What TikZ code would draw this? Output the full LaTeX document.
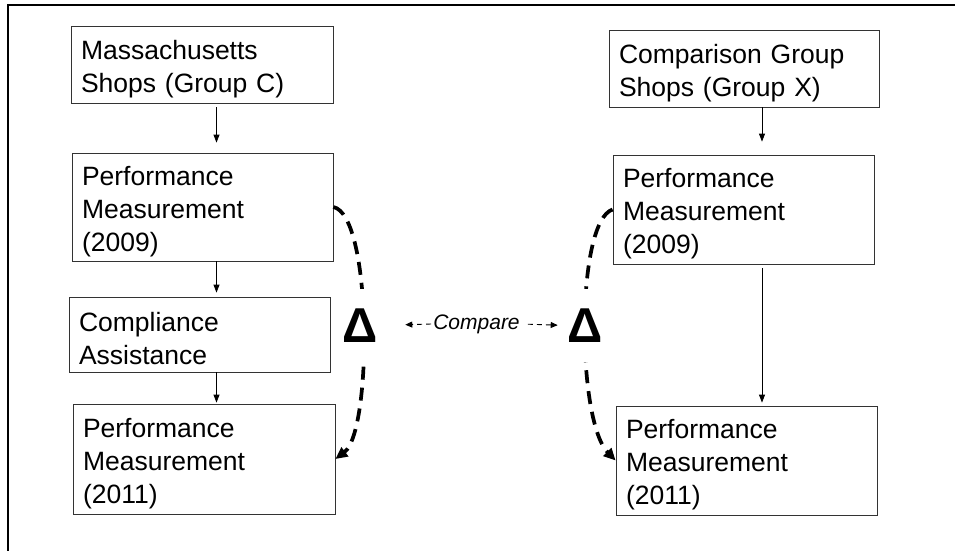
\documentclass[tikz,border=0pt]{standalone}
\usepackage{fontspec}
\setmainfont{Liberation Sans}
\usetikzlibrary{arrows.meta}
\begin{document}
\begin{tikzpicture}[
    x=1pt, y=-1pt,
    stagebox/.style={draw=black!80, line width=0.8pt, align=left, inner xsep=10pt, inner ysep=0pt,
        text height=28pt, font=\fontsize{26.5}{33}\selectfont},
    flow/.style={-{Triangle[length=8pt,width=6pt]}, line width=0.8pt},
    deltaarc/.style={dash pattern=on 13pt off 8pt, line width=3.7pt, -{Triangle[length=12pt,width=11pt]}},
    cmparrow/.style={dash pattern=on 5pt off 4pt, line width=0.9pt, -{Triangle[length=7pt,width=6pt]}},
    deltamark/.style={fill=white, inner xsep=0pt, inner ysep=20pt, font=\fontsize{49}{49}\selectfont\bfseries}
    ]
	\useasboundingbox (0,0) rectangle (955,550);
	\draw[line width=2pt] (7.5,560) |- (965,5);
	% group C
	\node[stagebox, text width=242pt, minimum height=77pt] (mass) at (202,64.5) {Massachusetts\\Shops (Group C)};
	\node[stagebox, text width=241pt, minimum height=108pt] (perfa) at (202.5,207) {Performance\\Measurement\\(2009)};
	\node[stagebox, text width=241pt, minimum height=75pt] (assist) at (199.5,334.5) {Compliance\\Assistance};
	\node[stagebox, text width=242pt, minimum height=110pt] (perfb) at (204,459) {Performance\\Measurement\\(2011)};
	% group X
	\node[stagebox, text width=250pt, minimum height=77pt] (comp) at (744,68.5) {Comparison Group\\Shops (Group X)};
	\node[stagebox, text width=241pt, minimum height=109pt] (perfx) at (743.5,209.5) {Performance\\Measurement\\(2009)};
	\node[stagebox, text width=241pt, minimum height=109pt] (perfy) at (746.5,460.5) {Performance\\Measurement\\(2011)};
	\coordinate (lcol) at (216.5,0);
	\coordinate (rcol) at (762,0);
	\draw[flow, shorten <=4pt, shorten >=10pt] (mass.south -| lcol) -- (perfa.north -| lcol);
	\draw[flow, shorten >=4pt] (perfa.south -| lcol) -- (assist.north -| lcol);
	\draw[flow, shorten >=1pt] (assist.south -| lcol) -- (perfb.north -| lcol);
	\draw[flow, shorten >=13pt] (comp.south -| rcol) -- (perfx.north -| rcol);
	\draw[flow, shorten <=4pt, shorten >=3pt] (perfx.south -| rcol) -- (perfy.north -| rcol);
	% change and comparison
	\draw[deltaarc] (perfa.east) .. controls +(39,8) and +(37,-28) .. (perfb.east);
	\draw[deltaarc] (perfx.west) .. controls +(-37,12) and +(-39,-40) .. (perfy.west);
	\node[deltamark] (dl) at (360.5,325.5) {Δ};
	\node[deltamark] (dr) at (585.5,325.5) {Δ};
	\node[font=\fontsize{21}{24}\selectfont\itshape, inner xsep=2pt] (cmp) at (476.5,324) {Compare};
	\draw[cmparrow, shorten >=27pt] (cmp.west) -- (dl.east);
	\draw[cmparrow, shorten <=6pt, shorten >=10pt] (cmp.east) -- (dr.west);
\end{tikzpicture}
\end{document}
